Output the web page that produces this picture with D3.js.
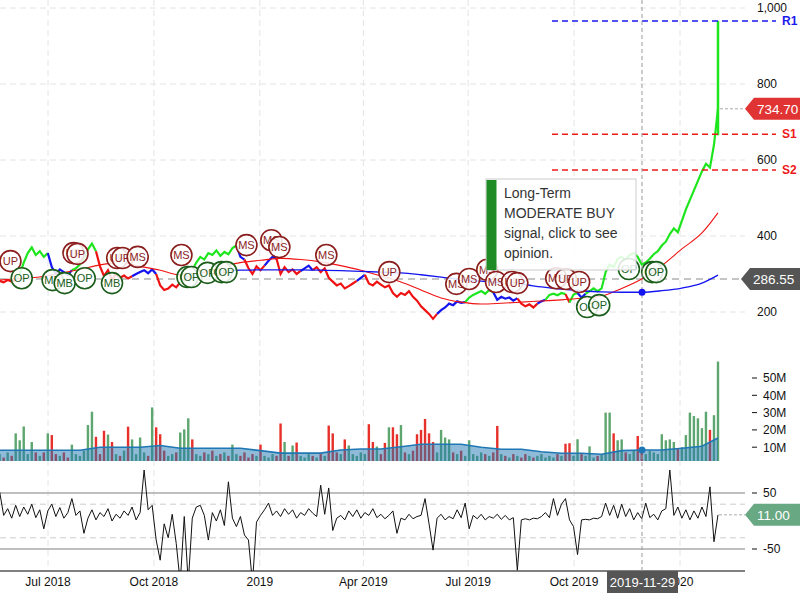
<!DOCTYPE html>
<html>
<head>
<meta charset="utf-8">
<script src="https://cdn.jsdelivr.net/npm/d3@7/dist/d3.min.js"></script>
<style>
body { margin: 0; background: #fff; }
svg { font-family: Arial, "Liberation Sans", sans-serif; }
</style>
</head>
<body>
<div id="chart"></div>
<script>
// semi-weekly samples, 2018-05-20 .. 2020-02-03
var startDate = "2018-05-20";
var endDate = "2020-02-03";

var closes = [
  282, 278, 284, 280, 286, 300, 330, 355, 370, 350,
  360, 345, 355, 318, 300, 312, 305, 298, 310, 315,
  325, 340, 365, 380, 360, 320, 295, 310, 285, 300,
  290, 296, 288, 294, 300, 305, 310, 302, 312, 300,
  270, 258, 262, 272, 265, 278, 300, 318, 310, 330,
  345, 338, 355, 350, 362, 348, 358, 352, 368, 375,
  345, 338, 315, 300, 320, 310, 322, 335, 345, 340,
  300, 318, 305, 312, 300, 308, 315, 322, 310, 318,
  305, 315, 290, 280, 270, 275, 262, 268, 275, 282,
  290, 298, 275, 270, 280, 272, 265, 270, 250, 240,
  250, 245, 255, 240, 230, 215, 205, 195, 182, 195,
  205, 212, 222, 218, 228, 224, 226, 238, 245, 250,
  255, 248, 258, 252, 232, 240, 235, 238, 230, 236,
  222, 215, 220, 212, 222, 228, 232, 245, 248, 244,
  250, 247, 225, 246, 250, 238, 248, 255, 262, 255,
  262, 305, 325, 318, 340, 345, 338, 350, 355, 345,
  325, 330, 340, 352, 360, 375, 385, 405, 420, 410,
  440, 470, 495, 520, 545, 570, 590, 580, 640, 734.70
];
// g = up trend, b = neutral, r = down trend
var trend =
  "rrrrr" + "gggggggg" + "bbbbbb" + "gggggg" + "rrrrrrrrr" + "bbbbbb" + "rrrrrr" +
  "gggggggggggggg" + "bb" + "rrrrr" + "bbb" + "rrrrrr" + "bbb" + "rrrrrrrrr" + "rr" + "bb" +
  "rrrrrrrrrrrrrrrrrr" + "bbbbbbb" + "ggggggg" + "bbbbbb" + "rrrrr" + "bb" + "ggggg" + "r" +
  "gg" + "bb" + "ggggggggggggggggggggggggggggggggg";
var lastHigh = 966;
var lastLow = 665;

var volumes = [
  6, 4, 7, 5, 18, 14, 22, 6, 13, 7,
  5, 7, 18, 17, 6, 5, 7, 4, 11.5, 6,
  5, 8, 22.8, 30.5, 16, 6, 19.5, 17.3, 13, 6,
  5, 8, 21.9, 14.5, 6, 15.6, 7, 5, 33, 21.5,
  17.5, 8, 5, 6, 7, 18.5, 20.3, 26.7, 14.5, 6,
  5, 7, 6, 8, 5, 6, 7, 5, 11.5, 6,
  5, 7, 4, 6, 5, 11.5, 5, 4, 6, 5,
  23.7, 13, 5, 11, 12.7, 5, 4, 6, 5, 4,
  6, 5, 22.5, 18, 7, 6, 14.5, 11, 6, 5,
  7, 6, 23.3, 13, 10.4, 6, 12.5, 21.5, 21.5, 17.5,
  22.8, 7, 6, 8, 17.5, 20, 26.3, 18, 13, 7,
  20, 15.6, 14.5, 7, 6, 8, 5, 14, 6, 5,
  7, 6, 5, 7, 22.3, 6, 5, 4, 6, 5,
  4, 6, 5, 4, 5, 6, 4, 5, 4, 6,
  5, 12, 12.3, 5, 14.6, 6, 5, 10.5, 4, 5,
  6, 30, 30, 18, 14, 14.5, 7, 6, 8, 16.5,
  7, 6, 8, 7, 6, 17.5, 14, 14.5, 13, 9,
  10, 17, 30, 28, 26.7, 21, 30.5, 20, 28.5, 59.5
];

var osc = [
  52, 10, 22, 5, 28, 8, 25, 12, 30, 6,
  20, -14, 18, 30, 8, 24, 5, 15, 40, 10,
  18, -22, 5, 20, 2, 15, 8, 22, 0, 12,
  5, 18, 10, 25, 2, 15, 91, 20, 28, -34,
  -70, -5, -30, 12, -40, -110, 8, -110, 5, 25,
  28, 10, -34, 15, 0, 20, -8, 70, 5, -10,
  8, -25, -34, -110, -2, 10, 20, 32, 10, 18,
  8, 22, 12, 20, 5, 15, 10, 22, 14, 8,
  64, 12, 59, -17, 5, 10, 2, 18, 8, 20,
  5, 15, 10, 22, 6, 12, 4, 10, 18, -22,
  5, 2, 12, 4, 8, 10, 40, -5, -52, 5,
  12, 2, 8, 4, 20, 6, 32, -14, 10, 4,
  12, 2, 8, 5, 12, 3, 10, 2, 6, -88,
  2, 4, 2, 5, 4, 8, 15, 6, 40, 10,
  30, 40, 2, -10, -60, 2, 3, 2, 5, 4,
  8, 32, 10, 28, 5, 30, 8, 22, 2, 15,
  4, 32, 6, 12, 2, 18, 22, 91, 10, 25,
  5, 20, 2, 18, 5, 25, 8, 61, -37, 11
];

// moving averages, sampled every 5th point
var maIdx = [0, 5, 10, 15, 20, 25, 30, 35, 40, 45, 50, 55, 60, 65, 70, 75, 80, 85, 90,
  95, 100, 105, 110, 115, 120, 125, 130, 135, 140, 145, 150, 155, 160, 165, 170, 175, 179];
var maShort = [284, 288, 292, 302, 312, 324, 330, 320, 310, 298, 302, 318, 330, 336, 341,
  338, 332, 322, 310, 295, 279, 258, 237, 226, 221, 223, 226, 229, 232, 236, 242, 262,
  287, 322, 366, 408, 461];
var maLong = [null, null, null, null, null, null, null, null, null, null, null,
  308, 310, 311, 311, 311, 310, 309, 307, 305, 303, 298, 292, 285, 281, 277, 273, 266,
  260, 256, 253, 252, 252, 256, 263, 276, 297];
var volAvg = [8.2, 8.2, 8.2, 8.2, 8.2, 10, 10, 10, 11, 9.4, 9.4, 9.4, 9.4, 8, 6.6, 6.6,
  6.6, 8.4, 9, 9, 10.3, 11.7, 11.7, 11.7, 10, 8.8, 8.8, 7.4, 6.5, 6.5, 5.9, 8, 8.4, 8.4,
  9.4, 10.5, 15.3];

var markerIdx = [2.7, 5.5, 13.2, 16.2, 18.4, 19.4, 21.2, 28.0, 29.3, 30.6, 34.4, 45.3,
  46.8, 47.8, 51.8, 55.3, 56.5, 61.5, 67.7, 69.7, 81.4, 97.1, 113.8, 117, 121.5, 123.7,
  127.7, 129, 138.7, 141.1, 144.4, 146.4, 149.4, 156.8, 162.6, 163.6];
var markerPrice = [334, 289, 284, 276, 355, 353, 289, 276, 342, 342, 345, 350,
  292, 292, 303, 305, 305, 376, 389, 371, 350, 305, 274, 287, 311, 279,
  279, 276, 289, 287, 279, 213, 218, 313, 305, 305];
var markerLabel = ["UP", "OP", "MB", "MB", "UP", "UP", "OP", "MB", "UP", "UP", "MS", "MS",
  "OP", "OP", "OP", "OP", "OP", "MS", "MS", "MS", "MS", "UP", "MS", "MS", "MS", "MS",
  "UP", "UP", "MS", "UP", "UP", "OP", "OP", "OP", "OP", "OP"];

var levelNames = ["R1", "S1", "S2"];
var levelValues = [966, 668, 574];
var levelColors = ["#1a1aee", "#ee1a1a", "#ee1a1a"];

var priceTicks = [200, 400, 600, 800, 1000];
var volTicks = [10, 20, 30, 40, 50];
var oscLines = [50, -50];
var oscBands = [30, -30];
var monthTicks = ["2018-07-01", "2018-10-01", "2019-01-01", "2019-04-01", "2019-07-01", "2019-10-01", "2020-01-01"];
var monthLabels = ["Jul 2018", "Oct 2018", "2019", "Apr 2019", "Jul 2019", "Oct 2019", "2020"];

var cursorDate = "2019-11-29";
var cursorPrice = 286.55;
var cursorIdx = 160;
var lastOsc = 11.00;
var tipLines = ["Long-Term", "MODERATE BUY", "signal, click to see", "opinion."];

var trendColor = { g: "#1ee61e", b: "#1414f0", r: "#f01212" };
var upVol = "#5ea66f", downVol = "#e8302a";
var plotRight = 745;

var parse = d3.timeParse("%Y-%m-%d");
var svg = d3.select("#chart").append("svg").attr("width", 800).attr("height", 600);

var x = d3.scaleTime().domain([parse("2018-07-01"), parse("2020-01-01")]).range([48, 680]);
var xi = d3.scaleLinear().domain([0, closes.length - 1]).range([x(parse(startDate)), x(parse(endDate))]);
var y = d3.scaleLinear().domain([200, 1000]).range([312, 8]);
var yv = d3.scaleLinear().domain([0, 50]).range([464.5, 378]);
var yo = d3.scaleLinear().domain([-50, 50]).range([549, 493]);

var defs = svg.append("defs");
defs.append("clipPath").attr("id", "cp-price").append("rect").attr("x", 0).attr("y", 0).attr("width", plotRight).attr("height", 340);
defs.append("clipPath").attr("id", "cp-vol").append("rect").attr("x", 0).attr("y", 340).attr("width", plotRight).attr("height", 121);
defs.append("clipPath").attr("id", "cp-osc").append("rect").attr("x", 0).attr("y", 462).attr("width", plotRight).attr("height", 109);

// grid
svg.append("g").selectAll("line").data(monthTicks).join("line")
  .attr("x1", function(d) { return x(parse(d)); })
  .attr("x2", function(d) { return x(parse(d)); })
  .attr("y1", 0).attr("y2", 571)
  .attr("stroke", "#e4e4e4").attr("stroke-dasharray", "6,4");
svg.append("g").selectAll("line").data(priceTicks).join("line")
  .attr("x1", 0).attr("x2", plotRight)
  .attr("y1", function(d) { return y(d); }).attr("y2", function(d) { return y(d); })
  .attr("stroke", "#e4e4e4").attr("stroke-dasharray", "6,4");

// oscillator guide lines
svg.append("g").selectAll("line").data(oscLines).join("line")
  .attr("x1", 0).attr("x2", plotRight)
  .attr("y1", function(d) { return yo(d); }).attr("y2", function(d) { return yo(d); })
  .attr("stroke", "#aaa").attr("stroke-width", 1.5);
svg.append("g").selectAll("line").data(oscBands).join("line")
  .attr("x1", 0).attr("x2", plotRight)
  .attr("y1", function(d) { return yo(d); }).attr("y2", function(d) { return yo(d); })
  .attr("stroke", "#ccc").attr("stroke-dasharray", "6,4");

// cursor price line
svg.append("line").attr("x1", 0).attr("x2", 741)
  .attr("y1", y(cursorPrice)).attr("y2", y(cursorPrice))
  .attr("stroke", "#c4c4c4").attr("stroke-width", 2).attr("stroke-dasharray", "7,5");

// volume
var gv = svg.append("g").attr("clip-path", "url(#cp-vol)");
gv.selectAll("rect").data(volumes).join("rect")
  .attr("x", function(d, i) { return xi(i) - 1.2; })
  .attr("width", 2.4)
  .attr("y", function(d) { return yv(d); })
  .attr("height", function(d) { return yv(0) - yv(d); })
  .attr("fill", function(d, i) { return (i == 0 || closes[i] >= closes[i - 1]) ? upVol : downVol; });
var volPts = maIdx.map(function(d, k) { return { i: d, v: volAvg[k] }; });
gv.append("path").datum(volPts)
  .attr("d", d3.area().x(function(d) { return xi(d.i); }).y0(yv(0)).y1(function(d) { return yv(d.v); }))
  .attr("fill", "rgba(31,119,180,0.5)");
gv.append("path").datum(volPts)
  .attr("d", d3.line().x(function(d) { return xi(d.i); }).y(function(d) { return yv(d.v); }))
  .attr("fill", "none").attr("stroke", "#1f77b4").attr("stroke-width", 1.6);

// oscillator
svg.append("g").attr("clip-path", "url(#cp-osc)").append("path").datum(osc)
  .attr("d", d3.line().x(function(d, i) { return xi(i); }).y(function(d) { return yo(d); }))
  .attr("fill", "none").attr("stroke", "#111").attr("stroke-width", 1);
svg.append("line").attr("x1", 0).attr("x2", plotRight).attr("y1", 571).attr("y2", 571)
  .attr("stroke", "#000");

// price
var gp = svg.append("g").attr("clip-path", "url(#cp-price)");
var runs = [];
for (var i = 0; i < trend.length; i++) {
  if (i == 0 || trend[i] != trend[i - 1]) {
    runs.push({ c: trend[i], idx: i == 0 ? [] : [i - 1] });
  }
  runs[runs.length - 1].idx.push(i);
}
var priceLine = d3.line().x(function(i) { return xi(i); }).y(function(i) { return y(closes[i]); });
gp.selectAll("path.run").data(runs).join("path").attr("class", "run")
  .attr("d", function(r) { return priceLine(r.idx); })
  .attr("fill", "none").attr("stroke", function(r) { return trendColor[r.c]; })
  .attr("stroke-width", 2.2).attr("stroke-linejoin", "miter");
var last = closes.length - 1;
gp.append("line").attr("x1", xi(last)).attr("x2", xi(last))
  .attr("y1", y(lastLow)).attr("y2", y(lastHigh))
  .attr("stroke", trendColor[trend[last]]).attr("stroke-width", 2.5);

var maLine = d3.line().defined(function(d) { return d.v != null; })
  .x(function(d) { return xi(d.i); }).y(function(d) { return y(d.v); })
  .curve(d3.curveMonotoneX);
gp.append("path").datum(maIdx.map(function(d, k) { return { i: d, v: maShort[k] }; }))
  .attr("d", maLine).attr("fill", "none").attr("stroke", "#f01212").attr("stroke-width", 1.1);
gp.append("path").datum(maIdx.map(function(d, k) { return { i: d, v: maLong[k] }; }))
  .attr("d", maLine).attr("fill", "none").attr("stroke", "#1414f0").attr("stroke-width", 1.3);

// signal markers
var mk = gp.selectAll("g.mk").data(markerIdx).join("g").attr("class", "mk")
  .attr("transform", function(d, k) { return "translate(" + xi(d) + "," + y(markerPrice[k]) + ")"; });
function mkColor(k) { return (markerLabel[k] == "OP" || markerLabel[k] == "MB") ? "#1b5e1b" : "#8b1d1d"; }
mk.append("circle").attr("r", 10.5)
  .attr("fill", "rgba(255,255,255,0.85)")
  .attr("stroke", function(d, k) { return mkColor(k); }).attr("stroke-width", 1.6);
mk.append("text").text(function(d, k) { return markerLabel[k]; })
  .attr("text-anchor", "middle").attr("dy", "0.36em").attr("font-size", 11)
  .attr("fill", function(d, k) { return mkColor(k); });

// support / resistance
var lv = svg.append("g").selectAll("g").data(levelValues).join("g");
lv.append("line").attr("x1", 552).attr("x2", 776)
  .attr("y1", function(d) { return y(d); }).attr("y2", function(d) { return y(d); })
  .attr("stroke", function(d, k) { return levelColors[k]; })
  .attr("stroke-width", 1.5).attr("stroke-dasharray", "6,4");
lv.append("text").text(function(d, k) { return levelNames[k]; })
  .attr("x", 782).attr("y", function(d) { return y(d); }).attr("dy", "0.36em")
  .attr("font-size", 12).attr("font-weight", "bold")
  .attr("fill", function(d, k) { return levelColors[k]; });

// cursor
var cx = x(parse(cursorDate));
svg.append("line").attr("x1", cx).attr("x2", cx).attr("y1", 0).attr("y2", 571)
  .attr("stroke", "#999").attr("stroke-dasharray", "4,3");
svg.append("circle").attr("cx", cx).attr("cy", y(maLong[maIdx.indexOf(cursorIdx)])).attr("r", 3.5).attr("fill", "#1414f0");
svg.append("circle").attr("cx", cx).attr("cy", yv(volAvg[maIdx.indexOf(cursorIdx)])).attr("r", 3.5).attr("fill", "#1f77b4");

// right axes
svg.append("g").selectAll("text").data(priceTicks).join("text")
  .attr("x", 757).attr("y", function(d) { return y(d); }).attr("dy", "0.36em")
  .attr("font-size", 12).attr("fill", "#111").text(d3.format(","));
var vt = svg.append("g").selectAll("g").data(volTicks).join("g");
vt.append("line").attr("x1", 752).attr("x2", 757)
  .attr("y1", function(d) { return yv(d); }).attr("y2", function(d) { return yv(d); }).attr("stroke", "#111");
vt.append("text").attr("x", 763).attr("y", function(d) { return yv(d); }).attr("dy", "0.36em")
  .attr("font-size", 12).attr("fill", "#111").text(function(d) { return d + "M"; });
var ot = svg.append("g").selectAll("g").data(oscLines).join("g");
ot.append("line").attr("x1", 752).attr("x2", 757)
  .attr("y1", function(d) { return yo(d); }).attr("y2", function(d) { return yo(d); }).attr("stroke", "#111");
ot.append("text").attr("x", 763).attr("y", function(d) { return yo(d); }).attr("dy", "0.36em")
  .attr("font-size", 12).attr("fill", "#111").text(function(d) { return d; });

// bottom axis
svg.append("g").selectAll("text").data(monthTicks).join("text")
  .attr("x", function(d) { return x(parse(d)); }).attr("y", 582).attr("dy", "0.36em")
  .attr("text-anchor", "middle").attr("font-size", 12).attr("fill", "#111")
  .text(function(d, k) { return monthLabels[k]; });

// value tags
function tag(xTip, yy, w, fill, label) {
  var h = 22;
  svg.append("path")
    .attr("d", "M" + xTip + "," + yy + "L" + (xTip + 9) + "," + (yy - h / 2) + "L" + (xTip + w) + "," + (yy - h / 2) +
      "L" + (xTip + w) + "," + (yy + h / 2) + "L" + (xTip + 9) + "," + (yy + h / 2) + "Z")
    .attr("fill", fill);
  svg.append("text").attr("x", xTip + 12).attr("y", yy).attr("dy", "0.36em")
    .attr("font-size", 13.5).attr("fill", "#fff").text(label);
}
svg.append("line").attr("x1", xi(last) + 2).attr("x2", 745).attr("y1", y(closes[last])).attr("y2", y(closes[last]))
  .attr("stroke", "#aaa").attr("stroke-dasharray", "3,2");
tag(745, y(closes[last]), 55, "#e03434", d3.format(".2f")(closes[last]));
tag(741, y(cursorPrice), 59, "#555", d3.format(".2f")(cursorPrice));
svg.append("line").attr("x1", xi(last) + 1).attr("x2", 745).attr("y1", yo(lastOsc)).attr("y2", yo(lastOsc))
  .attr("stroke", "#aaa").attr("stroke-dasharray", "3,2");
tag(745, yo(lastOsc), 55, "#68a882", d3.format(".2f")(lastOsc));

// cursor date box
svg.append("rect").attr("x", cx - 35).attr("y", 571).attr("width", 71).attr("height", 22).attr("fill", "#555");
svg.append("text").attr("x", cx + 0.5).attr("y", 582).attr("dy", "0.36em").attr("text-anchor", "middle")
  .attr("font-size", 13).attr("fill", "#fff").text(cursorDate);

// tooltip
var tip = svg.append("g");
tip.append("rect").attr("x", 486).attr("y", 179).attr("width", 150).attr("height", 91)
  .attr("fill", "rgba(255,255,255,0.85)").attr("stroke", "#ccc");
tip.append("rect").attr("x", 486.5).attr("y", 180).attr("width", 10).attr("height", 90).attr("fill", "#1f8b24");
tip.selectAll("text").data(tipLines).join("text")
  .attr("x", 504).attr("y", function(d, k) { return 193 + k * 20; }).attr("dy", "0.36em")
  .attr("font-size", 14).attr("fill", "#333").text(function(d) { return d; });
</script>
</body>
</html>
